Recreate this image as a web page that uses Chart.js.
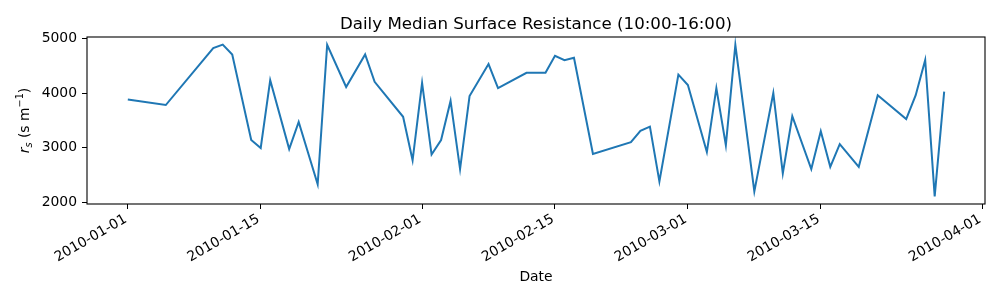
<!DOCTYPE html>
<html>
<head>
<meta charset="utf-8">
<script src="https://cdn.jsdelivr.net/npm/chart.js@4/dist/chart.umd.min.js"></script>
<style>
html,body{margin:0;padding:0;background:#fff;}
#wrap{width:1000px;height:300px;position:relative;}
</style>
</head>
<body>
<div id="wrap"><canvas id="c" width="1000" height="300"></canvas></div>
<script>
const dates = ["2010-01-01","2010-01-05","2010-01-10","2010-01-11","2010-01-12","2010-01-14","2010-01-15","2010-01-16","2010-01-18","2010-01-19",
"2010-01-21","2010-01-22","2010-01-24","2010-01-26","2010-01-27","2010-01-30","2010-01-31","2010-02-01","2010-02-02","2010-02-03",
"2010-02-04","2010-02-05","2010-02-06","2010-02-08","2010-02-09","2010-02-12","2010-02-14","2010-02-15","2010-02-16","2010-02-17",
"2010-02-19","2010-02-23","2010-02-24","2010-02-25","2010-02-26","2010-02-28","2010-03-01","2010-03-03","2010-03-04","2010-03-05",
"2010-03-06","2010-03-08","2010-03-10","2010-03-11","2010-03-12","2010-03-14","2010-03-15","2010-03-16","2010-03-17","2010-03-19",
"2010-03-21","2010-03-24","2010-03-25","2010-03-26","2010-03-27","2010-03-28"];
const resistance = [3880,3780,4820,4885,4705,3140,2995,4235,2975,3470,
2330,4880,4110,4705,4205,3565,2770,4185,2875,3140,
3855,2610,3945,4530,4090,4370,4370,4680,4600,4645,
2885,3100,3310,3385,2385,4335,4145,2920,4090,3045,
4880,2200,4000,2530,3575,2610,3300,2650,3065,2650,
3960,3525,3960,4605,2110,4025];
const xTickLabels = ["2010-01-01","2010-01-15","2010-02-01","2010-02-15","2010-03-01","2010-03-15","2010-04-01"];
const yTickValues = [2000,3000,4000,5000];
const titleText = "Daily Median Surface Resistance (10:00-16:00)";
const xLabelText = "Date";

const DAY = 86400000;
const t0 = Date.UTC(2010,0,1);
function toDay(s){const p=s.split('-').map(Number);return (Date.UTC(p[0],p[1]-1,p[2])-t0)/DAY;}
function fromDay(d){const dt=new Date(t0+Math.round(d)*DAY);return dt.toISOString().slice(0,10);}
const points = dates.map((d,i)=>({x:toDay(d),y:resistance[i]}));
const xTickDays = xTickLabels.map(toDay);

const xs = points.map(p=>p.x), ys = points.map(p=>p.y);
const xMin0=Math.min(...xs), xMax0=Math.max(...xs), yMin0=Math.min(...ys), yMax0=Math.max(...ys);
const xm=(xMax0-xMin0)*0.05, ym=(yMax0-yMin0)*0.05;

const FONT = "'DejaVu Sans', sans-serif";
const FS = 13.9;

const deco = {
  id:'deco',
  afterDraw(chart){
    const ctx=chart.ctx, a=chart.chartArea;
    ctx.save();
    ctx.strokeStyle='#000'; ctx.lineWidth=1.1;
    ctx.strokeRect(a.left, a.top, a.right-a.left, a.bottom-a.top);
    ctx.fillStyle='#000';
    ctx.font = "16.67px "+FONT;
    ctx.textAlign='center'; ctx.textBaseline='alphabetic';
    ctx.fillText(titleText,(a.left+a.right)/2, a.top-8.3);
    ctx.font = FS+"px "+FONT;
    ctx.textBaseline='middle';
    ctx.fillText(xLabelText,(a.left+a.right)/2, 277);
    const pieces=[
      {t:'r',f:'italic '+FS+'px '+FONT,dy:0},
      {t:'s',f:'italic 9.7px '+FONT,dy:3},
      {t:' (s m',f:FS+'px '+FONT,dy:0},
      {t:'\u22121',f:'9.7px '+FONT,dy:-6},
      {t:')',f:FS+'px '+FONT,dy:0}
    ];
    let w=0; pieces.forEach(p=>{ctx.font=p.f;p.w=ctx.measureText(p.t).width;w+=p.w;});
    ctx.translate(24,(a.top+a.bottom)/2);
    ctx.rotate(-Math.PI/2);
    ctx.textAlign='left'; ctx.textBaseline='alphabetic';
    let x=-w/2;
    pieces.forEach(p=>{ctx.font=p.f;ctx.fillText(p.t,x,5+p.dy);x+=p.w;});
    ctx.restore();
  }
};

new Chart(document.getElementById('c'),{
  type:'line',
  data:{datasets:[{data:points,borderColor:'#1f77b4',borderWidth:2,pointRadius:0,tension:0,fill:false}]},
  options:{
    responsive:false,animation:false,
    layout:{padding:{top:37,right:15,left:0,bottom:0}},
    plugins:{legend:{display:false},title:{display:false},tooltip:{enabled:false}},
    scales:{
      x:{type:'linear',min:xMin0-xm,max:xMax0+xm,
        afterBuildTicks(s){s.ticks=xTickDays.map(v=>({value:v}));},
        afterFit(s){s.height=96;},
        ticks:{callback:(v)=>fromDay(v),minRotation:30,maxRotation:30,autoSkip:false,labelOffset:-2,color:'#000',font:{family:FONT,size:FS},padding:2},
        grid:{drawOnChartArea:false,drawTicks:true,tickLength:5,tickColor:'#000',tickWidth:1},
        border:{display:false}
      },
      y:{type:'linear',min:yMin0-ym,max:yMax0+ym,
        afterBuildTicks(s){s.ticks=yTickValues.map(v=>({value:v}));},
        afterFit(s){s.width=87;},
        ticks:{callback:(v)=>String(v),color:'#000',font:{family:FONT,size:FS},padding:5},
        grid:{drawOnChartArea:false,drawTicks:true,tickLength:5,tickColor:'#000',tickWidth:1},
        border:{display:false}
      }
    }
  },
  plugins:[deco]
});
</script>
</body>
</html>
